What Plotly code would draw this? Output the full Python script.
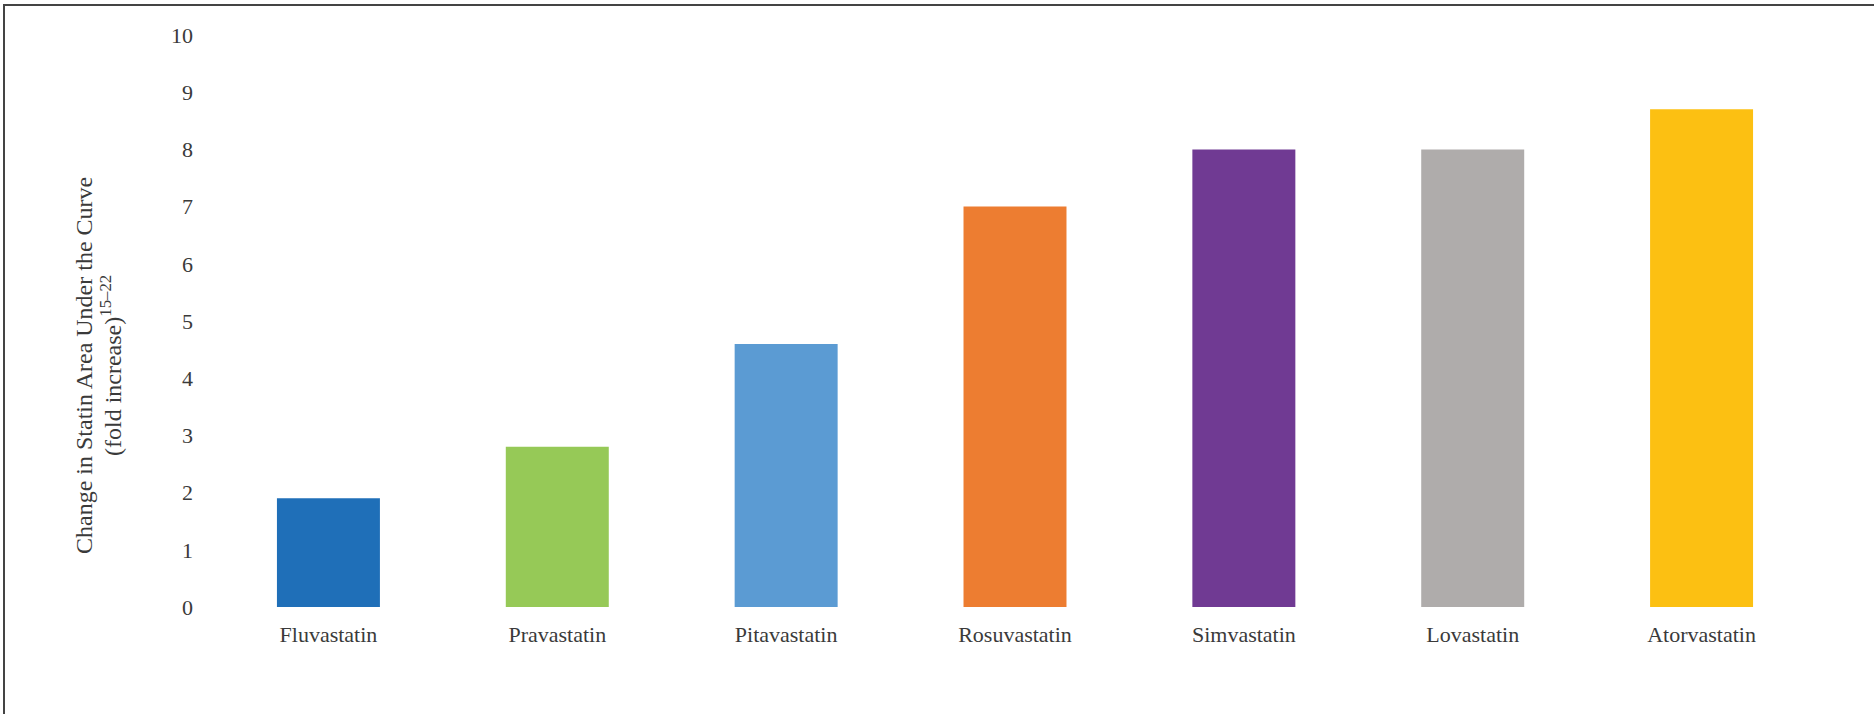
import plotly.graph_objects as go

# Statin exposure change (fold increase in AUC)
statins = ["Fluvastatin", "Pravastatin", "Pitavastatin", "Rosuvastatin",
           "Simvastatin", "Lovastatin", "Atorvastatin"]
fold_increase = [1.9, 2.8, 4.6, 7.0, 8.0, 8.0, 8.7]
bar_colors = ["#1F6FB8", "#96C957", "#5B9BD3", "#ED7D31",
              "#703A93", "#AFACAB", "#FCC012"]
y_ticks = list(range(0, 11))
title_lines = ["Change in Statin Area Under the Curve",
               "(fold increase)<sup>15–22</sup>"]

W, H = 1874, 714
L, R, T, B = 214, 58, 35, 107
pw, ph = W - L - R, H - T - B

def px_x(x):
    return (x - L) / pw

def px_y(y):
    return (H - B - y) / ph

FONT = "Liberation Serif"
TXT = "#3A3A3A"

fig = go.Figure(go.Bar(
    x=statins,
    y=fold_increase,
    marker=dict(color=bar_colors, line=dict(width=0)),
    width=0.45,
))

# y-axis title drawn as two rotated lines with tight spacing
title_annotations = [
    dict(text=txt, xref="paper", yref="paper",
         x=px_x(xc), y=px_y(366),
         xanchor="center", yanchor="middle",
         textangle=-90, showarrow=False,
         font=dict(family=FONT, size=24, color=TXT))
    for txt, xc in zip(title_lines, [84, 111])
]

fig.update_layout(
    width=W, height=H,
    margin=dict(l=L, r=R, t=T, b=B),
    paper_bgcolor="white",
    plot_bgcolor="white",
    showlegend=False,
    font=dict(family=FONT, size=22, color=TXT),
    xaxis=dict(
        showgrid=False, showline=False, zeroline=False,
        ticks="", tickfont=dict(family=FONT, size=22, color=TXT),
        ticklabelstandoff=12,
    ),
    yaxis=dict(
        range=[0, 10], tickvals=y_ticks,
        showgrid=False, showline=False, zeroline=False,
        ticks="", tickfont=dict(family=FONT, size=22, color=TXT),
        ticklabelstandoff=20,
    ),
    annotations=title_annotations,
    shapes=[
        dict(type="line", xref="paper", yref="paper",
             x0=px_x(4), x1=px_x(4), y0=px_y(4), y1=px_y(H + 2),
             line=dict(color="#444444", width=2)),
        dict(type="line", xref="paper", yref="paper",
             x0=px_x(3), x1=px_x(W + 2), y0=px_y(5), y1=px_y(5),
             line=dict(color="#444444", width=2)),
    ],
)

fig.write_html("out.html")
